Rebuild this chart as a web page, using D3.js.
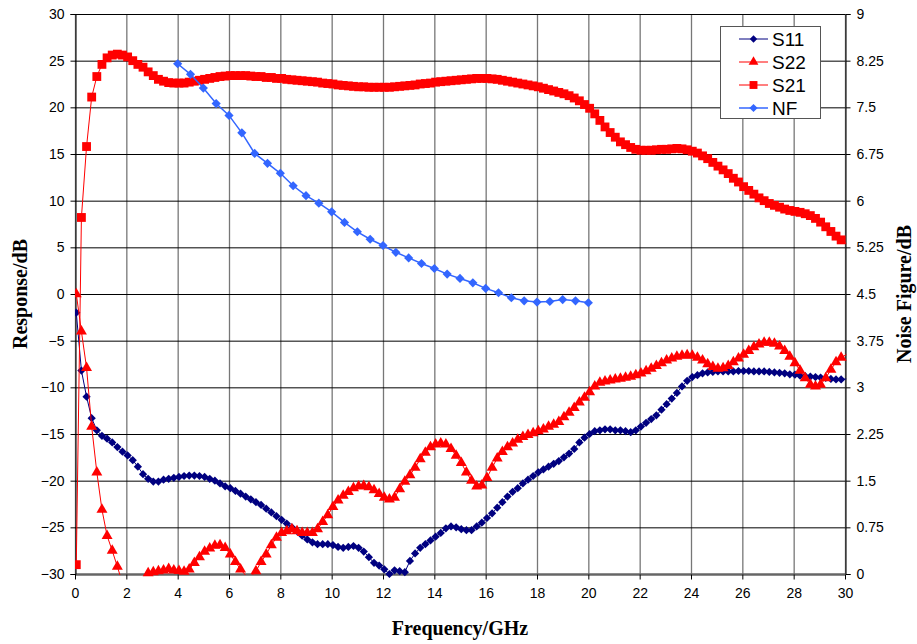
<!DOCTYPE html>
<html>
<head>
<meta charset="utf-8">
<script src="https://cdn.jsdelivr.net/npm/d3@7/dist/d3.min.js"></script>
<style>
  body { margin: 0; background: #fff; }
  .tick text { font-family: "Liberation Sans", Arial, sans-serif; font-size: 14px; fill: #000; }
  .title { font-family: "Liberation Serif", "Times New Roman", serif; font-weight: bold; font-size: 20px; }
</style>
</head>
<body>
<div id="chart"></div>
<script>
// sweep frequencies (GHz)
var freq = [
  0.05, 0.25, 0.45, 0.65, 0.85, 1.05, 1.25, 1.45, 1.65, 1.85,
  2.05, 2.25, 2.45, 2.65, 2.85, 3.05, 3.25, 3.45, 3.65, 3.85,
  4.05, 4.25, 4.45, 4.65, 4.85, 5.05, 5.25, 5.45, 5.65, 5.85,
  6.05, 6.25, 6.45, 6.65, 6.85, 7.05, 7.25, 7.45, 7.65, 7.85,
  8.05, 8.25, 8.45, 8.65, 8.85, 9.05, 9.25, 9.45, 9.65, 9.85,
  10.05, 10.25, 10.45, 10.65, 10.85, 11.05, 11.25, 11.45, 11.65, 11.85,
  12.05, 12.25, 12.45, 12.65, 12.85, 13.05, 13.25, 13.45, 13.65, 13.85,
  14.05, 14.25, 14.45, 14.65, 14.85, 15.05, 15.25, 15.45, 15.65, 15.85,
  16.05, 16.25, 16.45, 16.65, 16.85, 17.05, 17.25, 17.45, 17.65, 17.85,
  18.05, 18.25, 18.45, 18.65, 18.85, 19.05, 19.25, 19.45, 19.65, 19.85,
  20.05, 20.25, 20.45, 20.65, 20.85, 21.05, 21.25, 21.45, 21.65, 21.85,
  22.05, 22.25, 22.45, 22.65, 22.85, 23.05, 23.25, 23.45, 23.65, 23.85,
  24.05, 24.25, 24.45, 24.65, 24.85, 25.05, 25.25, 25.45, 25.65, 25.85,
  26.05, 26.25, 26.45, 26.65, 26.85, 27.05, 27.25, 27.45, 27.65, 27.85,
  28.05, 28.25, 28.45, 28.65, 28.85, 29.05, 29.25, 29.45, 29.65, 29.85,
  30.05
];
var s11 = [
  -2.0, -8.2, -11.0, -13.3, -14.6, -15.2, -15.5, -15.9, -16.4, -16.9,
  -17.3, -17.8, -18.5, -19.3, -19.8, -20.1, -20.1, -19.9, -19.8, -19.7,
  -19.6, -19.5, -19.45, -19.45, -19.5, -19.6, -19.8, -20.0, -20.3, -20.6,
  -20.8, -21.1, -21.4, -21.7, -22.0, -22.3, -22.6, -23.0, -23.4, -23.8,
  -24.2, -24.6, -25.0, -25.4, -25.9, -26.3, -26.6, -26.8, -26.8, -26.8,
  -26.9, -27.1, -27.2, -27.1, -27.0, -27.2, -27.6, -28.2, -28.8, -29.1,
  -29.5, -30.0, -29.6, -29.7, -29.8, -28.6, -27.8, -27.2, -26.8, -26.4,
  -26.0, -25.6, -25.1, -24.9, -25.0, -25.2, -25.3, -25.3, -24.9, -24.5,
  -24.0, -23.5, -22.9, -22.3, -21.7, -21.2, -20.8, -20.3, -19.9, -19.5,
  -19.1, -18.8, -18.5, -18.2, -17.9, -17.5, -17.1, -16.6, -15.9, -15.4,
  -15.0, -14.7, -14.6, -14.5, -14.5, -14.6, -14.6, -14.7, -14.8, -14.6,
  -14.2, -13.8, -13.4, -13.0, -12.4, -11.8, -11.2, -10.6, -9.9, -9.3,
  -8.9, -8.7, -8.5, -8.4, -8.35, -8.3, -8.3, -8.3, -8.3, -8.25,
  -8.25, -8.25, -8.3, -8.3, -8.3, -8.35, -8.4, -8.45, -8.5, -8.6,
  -8.65, -8.75, -8.8, -8.85, -8.9, -8.95, -9.0, -9.1, -9.15, -9.15,
  -9.1
];
var s22 = [
  0.0, -4.0, -7.9, -14.2, -19.1, -23.1, -25.9, -27.5, -29.2, -31.0,
  -32.5, -33.0, -32.2, -31.0, -29.9, -29.8, -29.7, -29.6, -29.45, -29.6,
  -29.65, -29.75, -29.5, -28.8, -28.2, -27.6, -27.25, -26.95, -26.9, -27.2,
  -27.9, -28.7, -29.5, -30.15, -30.3, -29.7, -28.7, -27.9, -26.9, -26.1,
  -25.6, -25.4, -25.2, -25.4, -25.6, -25.6, -25.6, -25.2, -24.4, -23.7,
  -22.8, -22.1, -21.6, -21.2, -20.8, -20.6, -20.55, -20.7, -21.0, -21.4,
  -21.8, -22.0, -21.8, -20.9, -20.1, -19.4, -18.6, -17.7, -17.0, -16.4,
  -16.1, -16.0, -16.1, -16.6, -17.3, -18.1, -19.1, -20.0, -20.6, -20.5,
  -19.7, -18.6, -17.6, -16.9, -16.4, -16.0, -15.6, -15.3, -15.1, -14.9,
  -14.7, -14.5, -14.2, -14.0, -13.7, -13.2, -12.7, -12.2, -11.6, -11.1,
  -10.5, -9.9, -9.5, -9.35, -9.25, -9.15, -9.05, -8.95, -8.85, -8.7,
  -8.5, -8.25, -8.0, -7.7, -7.4, -7.1, -6.9, -6.7, -6.6, -6.55,
  -6.6, -6.8, -7.1, -7.5, -7.8, -8.0, -7.95, -7.7, -7.3, -6.9,
  -6.5, -6.1, -5.7, -5.4, -5.2, -5.2, -5.3, -5.6, -6.1, -6.7,
  -7.4, -8.2, -9.0, -9.7, -9.9, -9.7, -9.0, -8.1, -7.3, -6.8,
  -6.5
];
var s21 = [
  -29.0, 8.2, 15.8, 21.1, 23.3, 24.6, 25.3, 25.6, 25.7, 25.6,
  25.4, 25.0, 24.6, 24.3, 23.8, 23.4, 23.0, 22.8, 22.65, 22.6,
  22.6, 22.6, 22.7, 22.8, 22.9, 23.0, 23.1, 23.2, 23.3, 23.35,
  23.4, 23.4, 23.4, 23.4, 23.35, 23.3, 23.3, 23.2, 23.2, 23.1,
  23.1, 23.0, 22.95, 22.9, 22.85, 22.8, 22.75, 22.7, 22.6, 22.55,
  22.5, 22.4, 22.35, 22.3, 22.25, 22.2, 22.2, 22.15, 22.15, 22.15,
  22.15, 22.15, 22.2, 22.25, 22.3, 22.35, 22.4, 22.5, 22.55, 22.6,
  22.7, 22.75, 22.8, 22.85, 22.9, 22.95, 23.0, 23.05, 23.1, 23.1,
  23.1, 23.05, 23.0, 22.9, 22.8, 22.7, 22.6, 22.5, 22.4, 22.3,
  22.2, 22.05, 21.9, 21.75, 21.6, 21.45, 21.25, 21.0, 20.7, 20.3,
  19.9, 19.3, 18.6, 17.9, 17.3, 16.8, 16.3, 16.0, 15.7, 15.5,
  15.4, 15.4, 15.4, 15.45, 15.5, 15.5, 15.55, 15.6, 15.55, 15.45,
  15.3, 15.1, 14.8, 14.5, 14.1, 13.7, 13.3, 12.9, 12.4, 12.0,
  11.5, 11.1, 10.7, 10.3, 10.0, 9.7, 9.5, 9.3, 9.1, 8.95,
  8.85, 8.75, 8.6, 8.4, 8.1, 7.7, 7.2, 6.7, 6.2, 5.8,
  5.4
];
// noise figure (right axis)
var nfFreq = [4, 4.5, 5, 5.5, 6, 6.5, 7, 7.5, 8, 8.5, 9, 9.5, 10, 10.5, 11, 11.5,
  12, 12.5, 13, 13.5, 14, 14.5, 15, 15.5, 16, 16.5, 17, 17.5, 18, 18.5, 19, 19.5, 20];
var nf = [8.2, 8.03, 7.81, 7.56, 7.37, 7.09, 6.76, 6.6, 6.44, 6.24, 6.08, 5.96, 5.82, 5.65, 5.5, 5.38,
  5.28, 5.17, 5.08, 4.99, 4.91, 4.82, 4.75, 4.68, 4.59, 4.52, 4.44, 4.39, 4.37, 4.38, 4.41, 4.39, 4.36];

var xTicks = [0, 2, 4, 6, 8, 10, 12, 14, 16, 18, 20, 22, 24, 26, 28, 30];
var yTicks = [-30, -25, -20, -15, -10, -5, 0, 5, 10, 15, 20, 25, 30];
var y2Ticks = [0, 0.75, 1.5, 2.25, 3, 3.75, 4.5, 5.25, 6, 6.75, 7.5, 8.25, 9];

var width = 917, height = 644;
var margin = {left: 75, right: 72, top: 14, bottom: 70};
var w = width - margin.left - margin.right;
var h = height - margin.top - margin.bottom;

var svg = d3.select("#chart").append("svg")
  .attr("width", width).attr("height", height);

var x = d3.scaleLinear().domain([0, 30]).range([margin.left, margin.left + w]);
var y = d3.scaleLinear().domain([-30, 30]).range([margin.top + h, margin.top]);
var y2 = d3.scaleLinear().domain([0, 9]).range([margin.top + h, margin.top]);

// excel style diamond (square turned 45 deg)
var xlDiamond = {
  draw: function(ctx, size) {
    var r = Math.sqrt(size / 2);
    ctx.moveTo(0, -r); ctx.lineTo(r, 0); ctx.lineTo(0, r); ctx.lineTo(-r, 0); ctx.closePath();
  }
};

//grid
svg.append("g").selectAll("line").data(xTicks).enter().append("line")
  .attr("x1", d => x(d) + 0.5).attr("x2", d => x(d) + 0.5)
  .attr("y1", margin.top).attr("y2", margin.top + h)
  .attr("stroke", "#777").attr("stroke-width", 1.3);
svg.append("g").selectAll("line").data(yTicks).enter().append("line")
  .attr("x1", margin.left).attr("x2", margin.left + w)
  .attr("y1", d => y(d) + 0.5).attr("y2", d => y(d) + 0.5)
  .attr("stroke", "#000").attr("stroke-width", 1);
svg.append("line")
  .attr("x1", margin.left).attr("x2", margin.left + w)
  .attr("y1", y(-30) + 0.5).attr("y2", y(-30) + 0.5)
  .attr("stroke", "#666").attr("stroke-width", 2.5);

//axes
var xAxis = svg.append("g").attr("transform", "translate(0," + (margin.top + h + 0.5) + ")")
  .call(d3.axisBottom(x).tickValues(xTicks).tickSize(5).tickPadding(9).tickFormat(d3.format("d")));
var yAxis = svg.append("g").attr("transform", "translate(" + (margin.left + 0.5) + ",0)")
  .call(d3.axisLeft(y).tickValues(yTicks).tickSize(5).tickPadding(6).tickFormat(d3.format("d")));
var yAxis2 = svg.append("g").attr("transform", "translate(" + (margin.left + w + 0.5) + ",0)")
  .call(d3.axisRight(y2).tickValues(y2Ticks).tickSize(5).tickPadding(6).tickFormat(d => String(d)));
[xAxis, yAxis, yAxis2].forEach(function(a) {
  a.selectAll(".domain").attr("stroke", "#000");
  a.selectAll(".tick line").attr("stroke", "#000");
});
xAxis.select(".domain").remove();
xAxis.selectAll(".tick text").attr("dy", "0.71em");

//titles
svg.append("text").attr("class", "title")
  .attr("text-anchor", "middle")
  .attr("transform", "translate(27," + (margin.top + h / 2) + ") rotate(-90)")
  .text("Response/dB");
svg.append("text").attr("class", "title")
  .attr("text-anchor", "middle")
  .attr("transform", "translate(911," + (margin.top + h / 2) + ") rotate(-90)")
  .text("Noise Figure/dB");
svg.append("text").attr("class", "title")
  .attr("text-anchor", "middle")
  .attr("x", margin.left + w / 2).attr("y", 635)
  .text("Frequency/GHz");

svg.append("clipPath").attr("id", "plotclip").append("rect")
  .attr("x", margin.left).attr("y", margin.top - 6)
  .attr("width", w + 5).attr("height", h + 12);
svg.append("clipPath").attr("id", "lineclip").append("rect")
  .attr("x", margin.left).attr("y", margin.top)
  .attr("width", w + 5).attr("height", h + 1);

var series = [
  {name: "S11", xs: freq, ys: s11, scale: y, color: "#000080", shape: xlDiamond, size: 34, lw: 1},
  {name: "S22", xs: freq, ys: s22, scale: y, color: "#FF0000", shape: d3.symbolTriangle, size: 52, lw: 1},
  {name: "S21", xs: freq, ys: s21, scale: y, color: "#FF0000", shape: d3.symbolSquare, size: 78, lw: 1},
  {name: "NF", xs: nfFreq, ys: nf, scale: y2, color: "#3366FF", shape: xlDiamond, size: 42, lw: 1.5}
];

series.forEach(function(s) {
  var pts = s.xs.map(function(f, i) { return {f: f, v: s.ys[i]}; });
  var line = d3.line().x(d => x(d.f)).y(d => s.scale(d.v));
  svg.append("path").datum(pts)
    .attr("clip-path", "url(#lineclip)")
    .attr("d", line)
    .attr("fill", "none").attr("stroke", s.color).attr("stroke-width", s.lw);
  var lo = s.scale.domain()[0], hi = s.scale.domain()[1];
  svg.append("g").attr("clip-path", "url(#plotclip)")
    .selectAll("path").data(pts.filter(d => d.v >= lo && d.v <= hi && d.f <= 30)).enter()
    .append("path")
    .attr("transform", d => "translate(" + x(d.f) + "," + s.scale(d.v) + ")")
    .attr("d", d3.symbol().type(s.shape).size(s.size))
    .attr("fill", s.color);
});

//legend
var lg = svg.append("g").attr("transform", "translate(720,26)");
lg.append("rect").attr("x", 0.5).attr("y", 0.5).attr("width", 100).attr("height", 92)
  .attr("fill", "#fff").attr("stroke", "#555").attr("stroke-width", 1);
series.forEach(function(s, i) {
  var ly = 13 + i * 23;
  lg.append("line").attr("x1", 19).attr("x2", 48).attr("y1", ly).attr("y2", ly)
    .attr("stroke", s.color).attr("stroke-width", s.lw);
  lg.append("path").attr("transform", "translate(33.5," + ly + ")")
    .attr("d", d3.symbol().type(s.shape).size(s.size * 0.8)).attr("fill", s.color);
  lg.append("text").attr("x", 52).attr("y", ly).attr("dy", "0.36em")
    .style("font-family", "Liberation Sans, Arial, sans-serif").style("font-size", "19px")
    .text(s.name);
});
</script>
</body>
</html>
